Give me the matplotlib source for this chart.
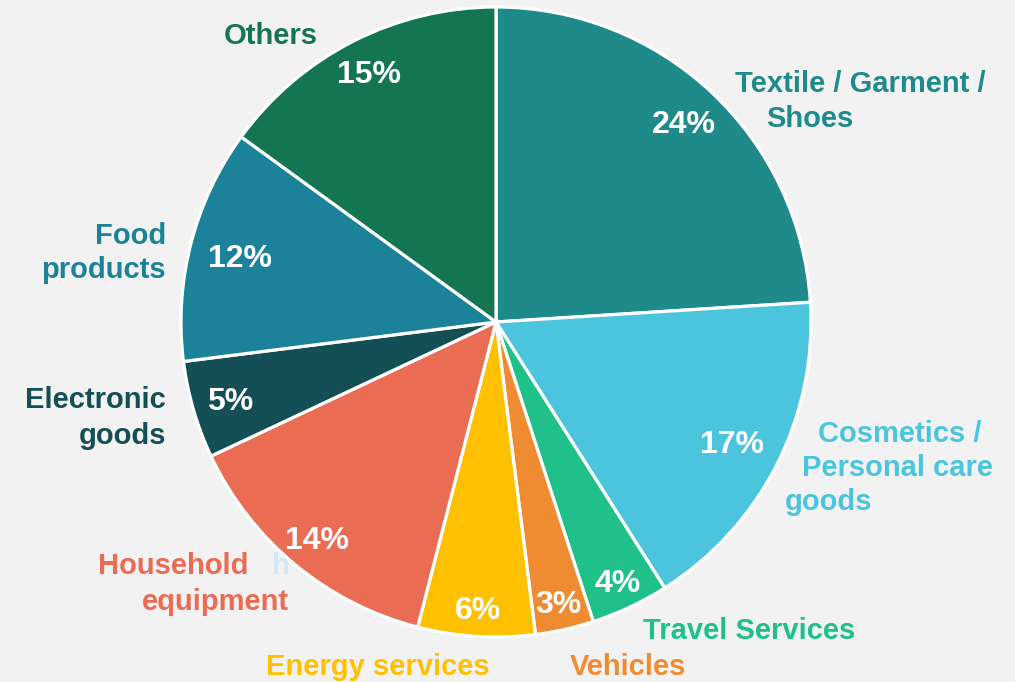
import matplotlib
matplotlib.use("Agg")
import matplotlib.pyplot as plt
import numpy as np

# slices, clockwise from 12 o'clock
categories = ["Textile / Garment / Shoes", "Cosmetics / Personal care goods",
              "Travel Services", "Vehicles", "Energy services",
              "Household equipment", "Electronic goods", "Food products", "Others"]
shares = [24, 17, 4, 3, 6, 14, 5, 12, 15]
colors = ["#1f8a8a", "#4bc4de", "#20c08a", "#ef8c32", "#ffc000",
          "#e96c53", "#134f55", "#1c829a", "#137552"]

# how far out each % label sits (fraction of radius)
pct_dist = [0.87, 0.84, 0.91, 0.91, 0.91, 0.89, 0.88, 0.84, 0.89]

# outer labels, one entry per line: (text, x, y, ha) in pixels from top-left
label_lines = [
    [("Textile / Garment /", 860, 81, "center"), ("Shoes", 810, 116, "center")],
    [("Cosmetics /", 900, 431, "center"), ("Personal care", 898, 465, "center"),
     ("goods", 829, 499, "center")],
    [("Travel Services", 749, 628, "center")],
    [("Vehicles", 628, 664, "center")],
    [("Energy services", 378, 664, "center")],
    [("Household", 173, 563, "center"), ("equipment", 215, 599, "center")],
    [("Electronic", 166, 397, "right"), ("goods", 166, 433, "right")],
    [("Food", 166, 233, "right"), ("products", 166, 267, "right")],
    [("Others", 271, 33, "center")],
]

W, H = 1015, 682
cx, cy, R = 496, 322, 315
dy = 3  # nudge text down a touch

plt.rcParams['font.family'] = ['Liberation Sans', 'DejaVu Sans']
fig = plt.figure(figsize=(W / 100, H / 100), dpi=100, facecolor="#f2f2f2")
ax = fig.add_axes([0, 0, 1, 1])
ax.set_facecolor("#f2f2f2")

# y axis is flipped, so start at -90 and go "counterclockwise" to run clockwise on screen
wedges, texts, autotexts = ax.pie(
    shares, colors=colors, center=(cx, cy), radius=R, startangle=-90,
    counterclock=True, autopct="%d%%", pctdistance=0.87,
    wedgeprops=dict(edgecolor="white", linewidth=2.3),
    textprops=dict(color="white", fontsize=23, fontweight="bold"),
    frame=True)
ax.set_xlim(0, W)
ax.set_ylim(H, 0)
ax.set_aspect("equal")
ax.axis("off")

for w, t, d in zip(wedges, autotexts, pct_dist):
    ang = np.deg2rad((w.theta1 + w.theta2) / 2)
    t.set_position((cx + d * R * np.cos(ang), cy + d * R * np.sin(ang) + dy))
    t.set_va("center")
    t.set_ha("center")

for lines, col in zip(label_lines, colors):
    for txt, x, y, ha in lines:
        ax.text(x, y + dy, txt, color=col, fontsize=21, fontweight="bold",
                ha=ha, va="center")

# stray faint glyph behind the household slice
ax.text(281, 563 + dy, "h", color="#d3e7f8", fontsize=21, fontweight="bold",
        ha="center", va="center", zorder=0)

fig.savefig("out.png", dpi=100, facecolor=fig.get_facecolor())
